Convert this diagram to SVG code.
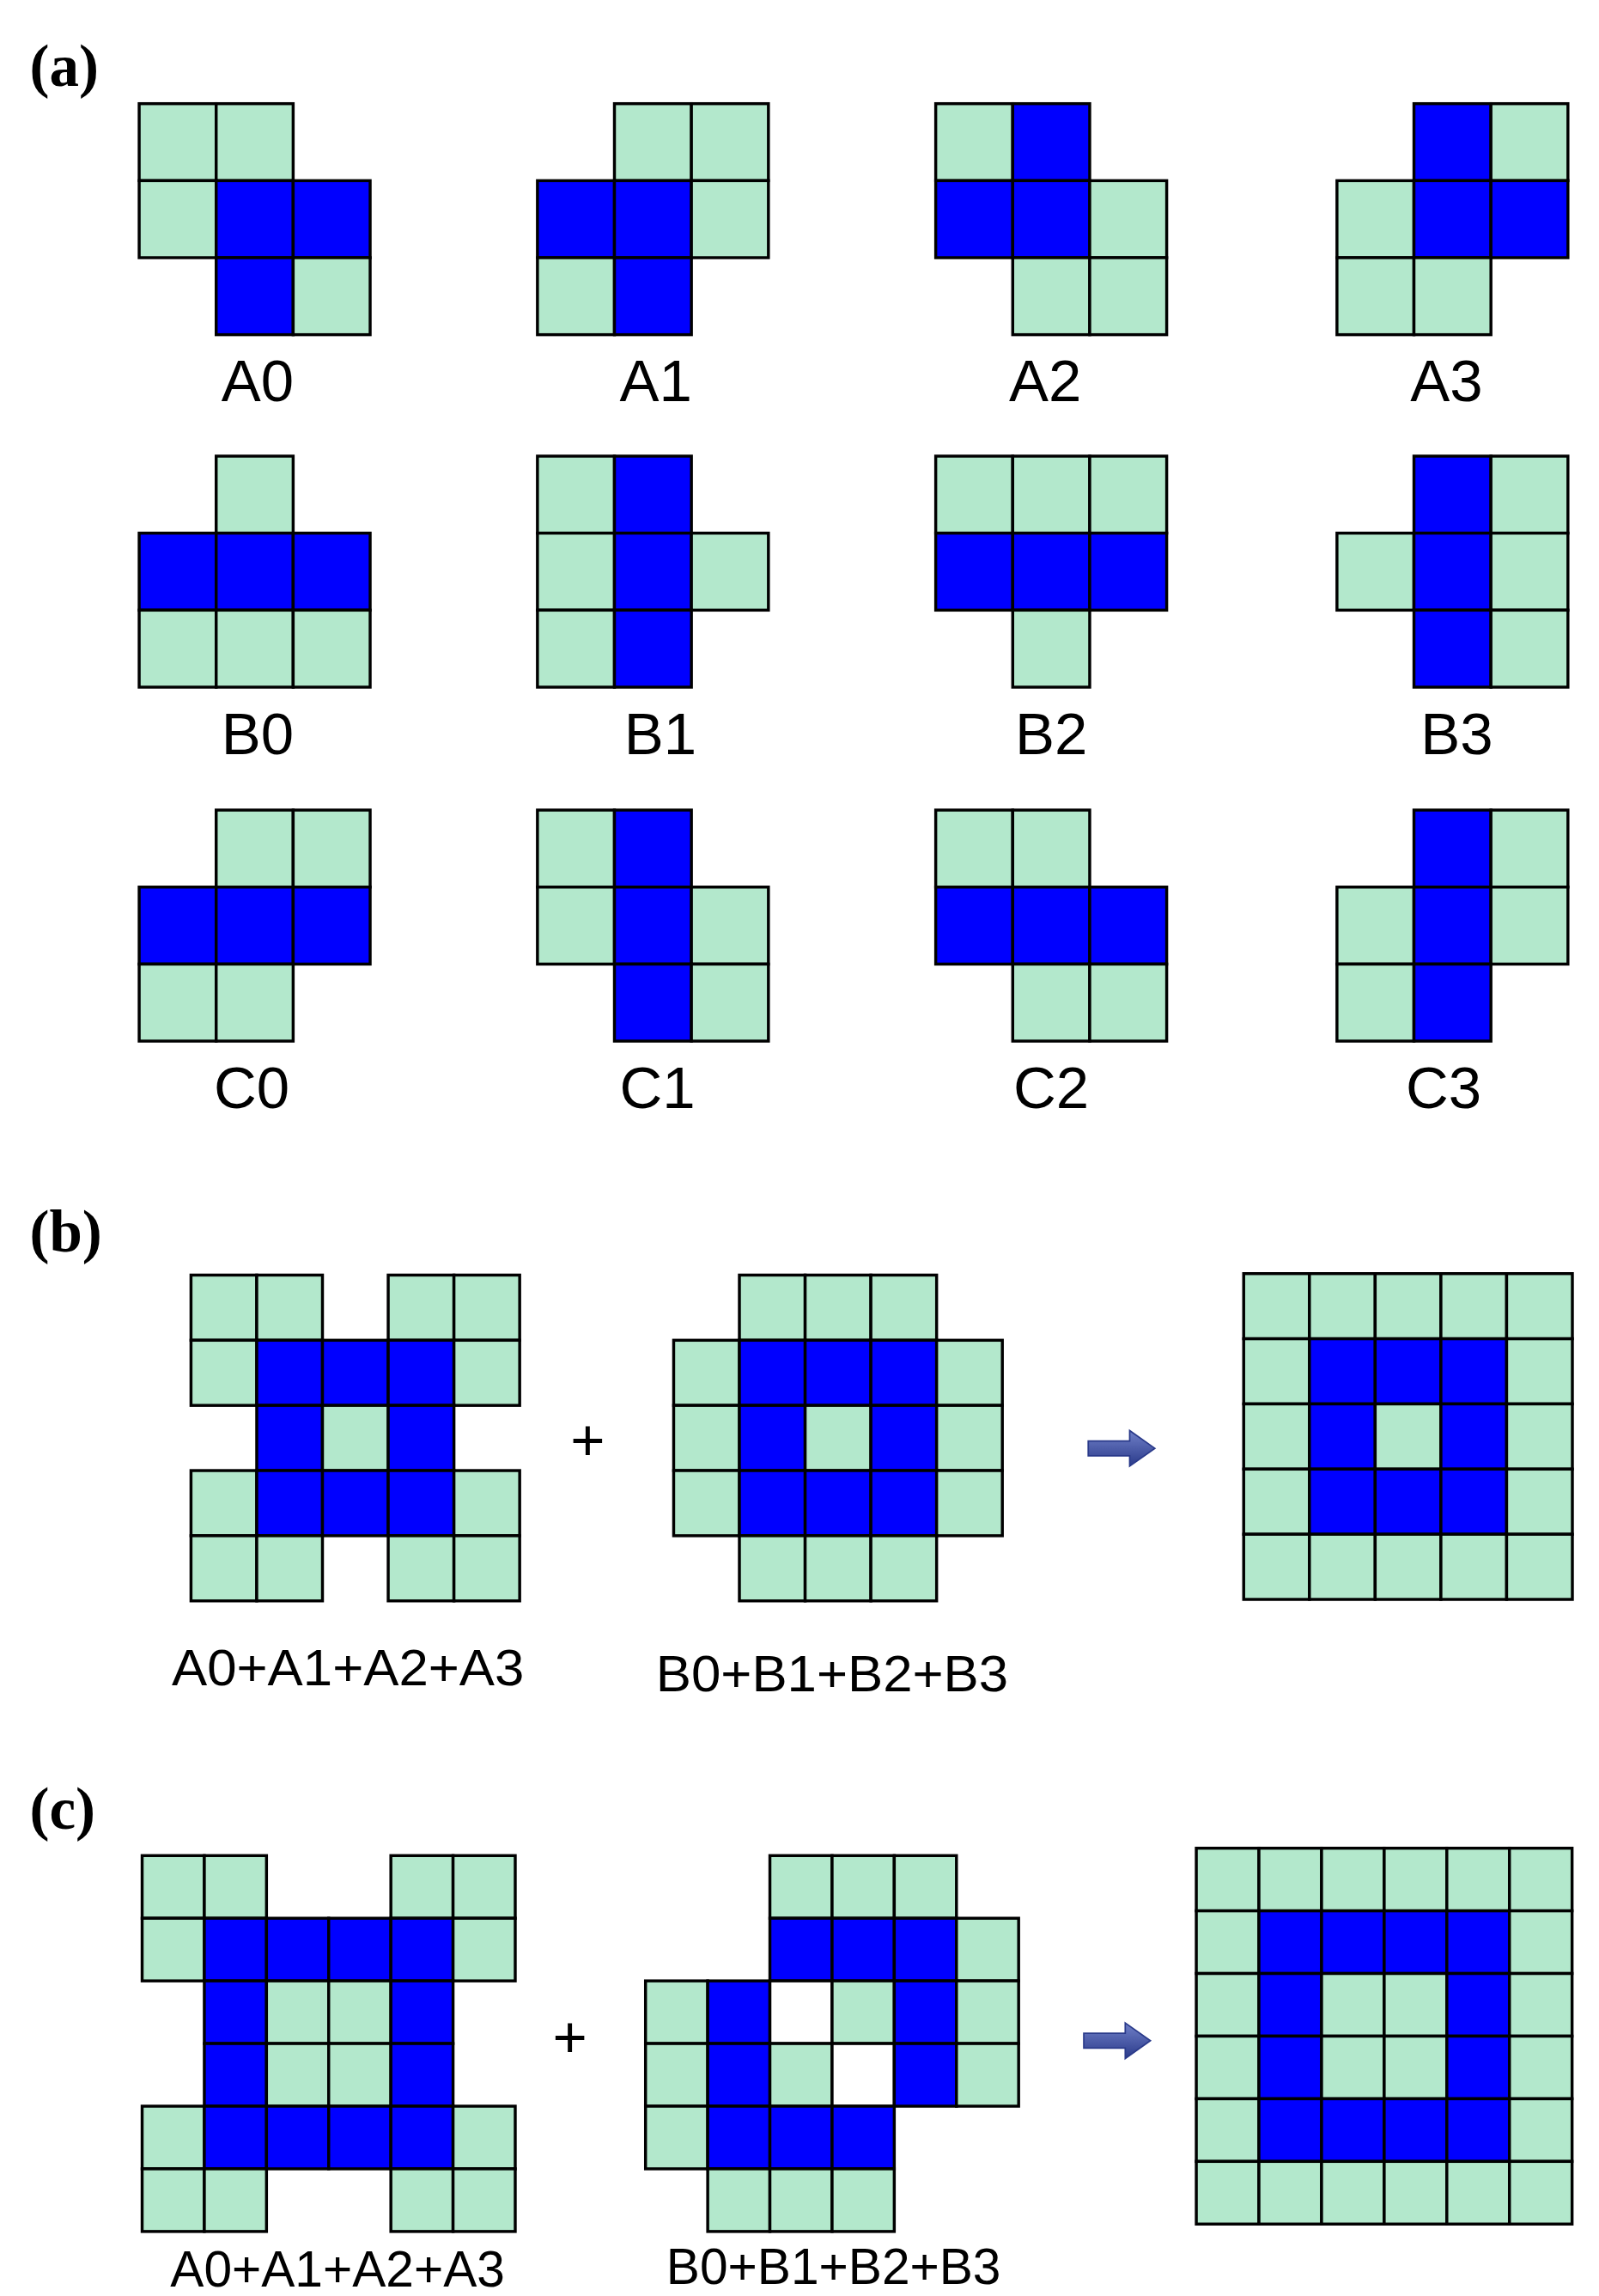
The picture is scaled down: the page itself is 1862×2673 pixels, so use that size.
<svg xmlns="http://www.w3.org/2000/svg" width="1862" height="2673" viewBox="0 0 1862 2673">
<style>
.g{fill:#b3e8cc;stroke:#000;stroke-width:2}
.b{fill:#0000ff;stroke:#000;stroke-width:2}
.w{fill:#fff;stroke:#000;stroke-width:2}
.lab{font-family:"Liberation Sans",Arial,sans-serif;font-size:40px;text-anchor:middle;fill:#000}
.sum{font-family:"Liberation Sans",Arial,sans-serif;font-size:34px;text-anchor:middle;fill:#000}
.pl{font-family:"Liberation Serif","Times New Roman",serif;font-size:40px;font-weight:bold;fill:#000}
.plus{font-family:"Liberation Sans",Arial,sans-serif;font-size:40px;text-anchor:middle;fill:#000}
</style>
<defs>
<linearGradient id="ag" x1="0" y1="0" x2="0" y2="1"><stop offset="0" stop-color="#7080c8"/><stop offset="1" stop-color="#2a3a8a"/></linearGradient>
<path id="arr" d="M0,-5 H28 V-12 L45,0 L28,12 V5 H0 Z" fill="url(#ag)" stroke="#2a3a8a" stroke-width="1"/>
</defs>
<rect width="1862" height="2673" fill="#fff"/>
<g transform="scale(1.7241)">
<text class="pl" x="20" y="58">(a)</text>
<text class="pl" x="20" y="845">(b)</text>
<text class="pl" x="20" y="1235">(c)</text>

<g id="A0" transform="translate(94,70)"><rect class="g" x="0" y="0" width="52" height="52"/><rect class="g" x="52" y="0" width="52" height="52"/><rect class="g" x="0" y="52" width="52" height="52"/><rect class="b" x="52" y="52" width="52" height="52"/><rect class="b" x="104" y="52" width="52" height="52"/><rect class="b" x="52" y="104" width="52" height="52"/><rect class="g" x="104" y="104" width="52" height="52"/><text class="lab" x="80" y="201">A0</text></g>
<g id="A1" transform="translate(363,70)"><rect class="g" x="52" y="0" width="52" height="52"/><rect class="g" x="104" y="0" width="52" height="52"/><rect class="b" x="0" y="52" width="52" height="52"/><rect class="b" x="52" y="52" width="52" height="52"/><rect class="g" x="104" y="52" width="52" height="52"/><rect class="g" x="0" y="104" width="52" height="52"/><rect class="b" x="52" y="104" width="52" height="52"/><text class="lab" x="80" y="201">A1</text></g>
<g id="A2" transform="translate(632,70)"><rect class="g" x="0" y="0" width="52" height="52"/><rect class="b" x="52" y="0" width="52" height="52"/><rect class="b" x="0" y="52" width="52" height="52"/><rect class="b" x="52" y="52" width="52" height="52"/><rect class="g" x="104" y="52" width="52" height="52"/><rect class="g" x="52" y="104" width="52" height="52"/><rect class="g" x="104" y="104" width="52" height="52"/><text class="lab" x="74" y="201">A2</text></g>
<g id="A3" transform="translate(903,70)"><rect class="b" x="52" y="0" width="52" height="52"/><rect class="g" x="104" y="0" width="52" height="52"/><rect class="g" x="0" y="52" width="52" height="52"/><rect class="b" x="52" y="52" width="52" height="52"/><rect class="b" x="104" y="52" width="52" height="52"/><rect class="g" x="0" y="104" width="52" height="52"/><rect class="g" x="52" y="104" width="52" height="52"/><text class="lab" x="74" y="201">A3</text></g>

<g id="B0" transform="translate(94,308)"><rect class="g" x="52" y="0" width="52" height="52"/><rect class="b" x="0" y="52" width="52" height="52"/><rect class="b" x="52" y="52" width="52" height="52"/><rect class="b" x="104" y="52" width="52" height="52"/><rect class="g" x="0" y="104" width="52" height="52"/><rect class="g" x="52" y="104" width="52" height="52"/><rect class="g" x="104" y="104" width="52" height="52"/><text class="lab" x="80" y="201">B0</text></g>
<g id="B1" transform="translate(363,308)"><rect class="g" x="0" y="0" width="52" height="52"/><rect class="b" x="52" y="0" width="52" height="52"/><rect class="g" x="0" y="52" width="52" height="52"/><rect class="b" x="52" y="52" width="52" height="52"/><rect class="g" x="104" y="52" width="52" height="52"/><rect class="g" x="0" y="104" width="52" height="52"/><rect class="b" x="52" y="104" width="52" height="52"/><text class="lab" x="83" y="201">B1</text></g>
<g id="B2" transform="translate(632,308)"><rect class="g" x="0" y="0" width="52" height="52"/><rect class="g" x="52" y="0" width="52" height="52"/><rect class="g" x="104" y="0" width="52" height="52"/><rect class="b" x="0" y="52" width="52" height="52"/><rect class="b" x="52" y="52" width="52" height="52"/><rect class="b" x="104" y="52" width="52" height="52"/><rect class="g" x="52" y="104" width="52" height="52"/><text class="lab" x="78" y="201">B2</text></g>
<g id="B3" transform="translate(903,308)"><rect class="b" x="52" y="0" width="52" height="52"/><rect class="g" x="104" y="0" width="52" height="52"/><rect class="g" x="0" y="52" width="52" height="52"/><rect class="b" x="52" y="52" width="52" height="52"/><rect class="g" x="104" y="52" width="52" height="52"/><rect class="b" x="52" y="104" width="52" height="52"/><rect class="g" x="104" y="104" width="52" height="52"/><text class="lab" x="81" y="201">B3</text></g>

<g id="C0" transform="translate(94,547)"><rect class="g" x="52" y="0" width="52" height="52"/><rect class="g" x="104" y="0" width="52" height="52"/><rect class="b" x="0" y="52" width="52" height="52"/><rect class="b" x="52" y="52" width="52" height="52"/><rect class="b" x="104" y="52" width="52" height="52"/><rect class="g" x="0" y="104" width="52" height="52"/><rect class="g" x="52" y="104" width="52" height="52"/><text class="lab" x="76" y="201">C0</text></g>
<g id="C1" transform="translate(363,547)"><rect class="g" x="0" y="0" width="52" height="52"/><rect class="b" x="52" y="0" width="52" height="52"/><rect class="g" x="0" y="52" width="52" height="52"/><rect class="b" x="52" y="52" width="52" height="52"/><rect class="g" x="104" y="52" width="52" height="52"/><rect class="b" x="52" y="104" width="52" height="52"/><rect class="g" x="104" y="104" width="52" height="52"/><text class="lab" x="81" y="201">C1</text></g>
<g id="C2" transform="translate(632,547)"><rect class="g" x="0" y="0" width="52" height="52"/><rect class="g" x="52" y="0" width="52" height="52"/><rect class="b" x="0" y="52" width="52" height="52"/><rect class="b" x="52" y="52" width="52" height="52"/><rect class="b" x="104" y="52" width="52" height="52"/><rect class="g" x="52" y="104" width="52" height="52"/><rect class="g" x="104" y="104" width="52" height="52"/><text class="lab" x="78" y="201">C2</text></g>
<g id="C3" transform="translate(903,547)"><rect class="b" x="52" y="0" width="52" height="52"/><rect class="g" x="104" y="0" width="52" height="52"/><rect class="g" x="0" y="52" width="52" height="52"/><rect class="b" x="52" y="52" width="52" height="52"/><rect class="g" x="104" y="52" width="52" height="52"/><rect class="g" x="0" y="104" width="52" height="52"/><rect class="b" x="52" y="104" width="52" height="52"/><text class="lab" x="72" y="201">C3</text></g>

<!-- panel b -->
<g id="bA" transform="translate(129,861)">
<rect class="g" x="0" y="0" width="44.4" height="44"/><rect class="g" x="44.4" y="0" width="44.4" height="44"/><rect class="g" x="133.2" y="0" width="44.4" height="44"/><rect class="g" x="177.6" y="0" width="44.4" height="44"/>
<rect class="g" x="0" y="44" width="44.4" height="44"/><rect class="b" x="44.4" y="44" width="44.4" height="44"/><rect class="b" x="88.8" y="44" width="44.4" height="44"/><rect class="b" x="133.2" y="44" width="44.4" height="44"/><rect class="g" x="177.6" y="44" width="44.4" height="44"/>
<rect class="b" x="44.4" y="88" width="44.4" height="44"/><rect class="g" x="88.8" y="88" width="44.4" height="44"/><rect class="b" x="133.2" y="88" width="44.4" height="44"/>
<rect class="g" x="0" y="132" width="44.4" height="44"/><rect class="b" x="44.4" y="132" width="44.4" height="44"/><rect class="b" x="88.8" y="132" width="44.4" height="44"/><rect class="b" x="133.2" y="132" width="44.4" height="44"/><rect class="g" x="177.6" y="132" width="44.4" height="44"/>
<rect class="g" x="0" y="176" width="44.4" height="44"/><rect class="g" x="44.4" y="176" width="44.4" height="44"/><rect class="g" x="133.2" y="176" width="44.4" height="44"/><rect class="g" x="177.6" y="176" width="44.4" height="44"/>
<text class="sum" x="106" y="277" textLength="238" lengthAdjust="spacingAndGlyphs">A0+A1+A2+A3</text>
</g>
<text class="plus" x="397" y="986">+</text>
<g id="bB" transform="translate(455,861)">
<rect class="g" x="44.4" y="0" width="44.4" height="44"/><rect class="g" x="88.8" y="0" width="44.4" height="44"/><rect class="g" x="133.2" y="0" width="44.4" height="44"/>
<rect class="g" x="0" y="44" width="44.4" height="44"/><rect class="b" x="44.4" y="44" width="44.4" height="44"/><rect class="b" x="88.8" y="44" width="44.4" height="44"/><rect class="b" x="133.2" y="44" width="44.4" height="44"/><rect class="g" x="177.6" y="44" width="44.4" height="44"/>
<rect class="g" x="0" y="88" width="44.4" height="44"/><rect class="b" x="44.4" y="88" width="44.4" height="44"/><rect class="g" x="88.8" y="88" width="44.4" height="44"/><rect class="b" x="133.2" y="88" width="44.4" height="44"/><rect class="g" x="177.6" y="88" width="44.4" height="44"/>
<rect class="g" x="0" y="132" width="44.4" height="44"/><rect class="b" x="44.4" y="132" width="44.4" height="44"/><rect class="b" x="88.8" y="132" width="44.4" height="44"/><rect class="b" x="133.2" y="132" width="44.4" height="44"/><rect class="g" x="177.6" y="132" width="44.4" height="44"/>
<rect class="g" x="44.4" y="176" width="44.4" height="44"/><rect class="g" x="88.8" y="176" width="44.4" height="44"/><rect class="g" x="133.2" y="176" width="44.4" height="44"/>
<text class="sum" x="107" y="281" textLength="238" lengthAdjust="spacingAndGlyphs">B0+B1+B2+B3</text>
</g>
<g id="connectors">
<use href="#arr" x="735" y="978"/>
<use href="#arr" x="732" y="1378"/>
</g>
<g id="bR" transform="translate(840,860)">
<rect class="g" x="0" y="0" width="44.4" height="44"/><rect class="g" x="44.4" y="0" width="44.4" height="44"/><rect class="g" x="88.8" y="0" width="44.4" height="44"/><rect class="g" x="133.2" y="0" width="44.4" height="44"/><rect class="g" x="177.6" y="0" width="44.4" height="44"/>
<rect class="g" x="0" y="44" width="44.4" height="44"/><rect class="b" x="44.4" y="44" width="44.4" height="44"/><rect class="b" x="88.8" y="44" width="44.4" height="44"/><rect class="b" x="133.2" y="44" width="44.4" height="44"/><rect class="g" x="177.6" y="44" width="44.4" height="44"/>
<rect class="g" x="0" y="88" width="44.4" height="44"/><rect class="b" x="44.4" y="88" width="44.4" height="44"/><rect class="g" x="88.8" y="88" width="44.4" height="44"/><rect class="b" x="133.2" y="88" width="44.4" height="44"/><rect class="g" x="177.6" y="88" width="44.4" height="44"/>
<rect class="g" x="0" y="132" width="44.4" height="44"/><rect class="b" x="44.4" y="132" width="44.4" height="44"/><rect class="b" x="88.8" y="132" width="44.4" height="44"/><rect class="b" x="133.2" y="132" width="44.4" height="44"/><rect class="g" x="177.6" y="132" width="44.4" height="44"/>
<rect class="g" x="0" y="176" width="44.4" height="44"/><rect class="g" x="44.4" y="176" width="44.4" height="44"/><rect class="g" x="88.8" y="176" width="44.4" height="44"/><rect class="g" x="133.2" y="176" width="44.4" height="44"/><rect class="g" x="177.6" y="176" width="44.4" height="44"/>
</g>

<!-- panel c -->
<g id="cA" transform="translate(96,1253)">
<rect class="g" x="0" y="0" width="42" height="42.3"/><rect class="g" x="42" y="0" width="42" height="42.3"/><rect class="g" x="168" y="0" width="42" height="42.3"/><rect class="g" x="210" y="0" width="42" height="42.3"/>
<rect class="g" x="0" y="42.3" width="42" height="42.3"/><rect class="b" x="42" y="42.3" width="42" height="42.3"/><rect class="b" x="84" y="42.3" width="42" height="42.3"/><rect class="b" x="126" y="42.3" width="42" height="42.3"/><rect class="b" x="168" y="42.3" width="42" height="42.3"/><rect class="g" x="210" y="42.3" width="42" height="42.3"/>
<rect class="b" x="42" y="84.6" width="42" height="42.3"/><rect class="g" x="84" y="84.6" width="42" height="42.3"/><rect class="g" x="126" y="84.6" width="42" height="42.3"/><rect class="b" x="168" y="84.6" width="42" height="42.3"/>
<rect class="b" x="42" y="126.9" width="42" height="42.3"/><rect class="g" x="84" y="126.9" width="42" height="42.3"/><rect class="g" x="126" y="126.9" width="42" height="42.3"/><rect class="b" x="168" y="126.9" width="42" height="42.3"/>
<rect class="g" x="0" y="169.2" width="42" height="42.3"/><rect class="b" x="42" y="169.2" width="42" height="42.3"/><rect class="b" x="84" y="169.2" width="42" height="42.3"/><rect class="b" x="126" y="169.2" width="42" height="42.3"/><rect class="b" x="168" y="169.2" width="42" height="42.3"/><rect class="g" x="210" y="169.2" width="42" height="42.3"/>
<rect class="g" x="0" y="211.5" width="42" height="42.3"/><rect class="g" x="42" y="211.5" width="42" height="42.3"/><rect class="g" x="168" y="211.5" width="42" height="42.3"/><rect class="g" x="210" y="211.5" width="42" height="42.3"/>
<text class="sum" x="132" y="291" textLength="226" lengthAdjust="spacingAndGlyphs">A0+A1+A2+A3</text>
</g>
<text class="plus" x="385" y="1389">+</text>
<g id="cB" transform="translate(436,1253)">
<rect class="g" x="84" y="0" width="42" height="42.3"/><rect class="g" x="126" y="0" width="42" height="42.3"/><rect class="g" x="168" y="0" width="42" height="42.3"/>
<rect class="b" x="84" y="42.3" width="42" height="42.3"/><rect class="b" x="126" y="42.3" width="42" height="42.3"/><rect class="b" x="168" y="42.3" width="42" height="42.3"/><rect class="g" x="210" y="42.3" width="42" height="42.3"/>
<rect class="g" x="0" y="84.6" width="42" height="42.3"/><rect class="b" x="42" y="84.6" width="42" height="42.3"/><rect class="w" x="84" y="84.6" width="42" height="42.3"/><rect class="g" x="126" y="84.6" width="42" height="42.3"/><rect class="b" x="168" y="84.6" width="42" height="42.3"/><rect class="g" x="210" y="84.6" width="42" height="42.3"/>
<rect class="g" x="0" y="126.9" width="42" height="42.3"/><rect class="b" x="42" y="126.9" width="42" height="42.3"/><rect class="g" x="84" y="126.9" width="42" height="42.3"/><rect class="w" x="126" y="126.9" width="42" height="42.3"/><rect class="b" x="168" y="126.9" width="42" height="42.3"/><rect class="g" x="210" y="126.9" width="42" height="42.3"/>
<rect class="g" x="0" y="169.2" width="42" height="42.3"/><rect class="b" x="42" y="169.2" width="42" height="42.3"/><rect class="b" x="84" y="169.2" width="42" height="42.3"/><rect class="b" x="126" y="169.2" width="42" height="42.3"/>
<rect class="g" x="42" y="211.5" width="42" height="42.3"/><rect class="g" x="84" y="211.5" width="42" height="42.3"/><rect class="g" x="126" y="211.5" width="42" height="42.3"/>
<text class="sum" x="127" y="289" textLength="226" lengthAdjust="spacingAndGlyphs">B0+B1+B2+B3</text>
</g>
<g id="cR" transform="translate(808,1248)">
<rect class="g" x="0" y="0" width="42.3" height="42.3"/><rect class="g" x="42.3" y="0" width="42.3" height="42.3"/><rect class="g" x="84.6" y="0" width="42.3" height="42.3"/><rect class="g" x="126.9" y="0" width="42.3" height="42.3"/><rect class="g" x="169.2" y="0" width="42.3" height="42.3"/><rect class="g" x="211.5" y="0" width="42.3" height="42.3"/>
<rect class="g" x="0" y="42.3" width="42.3" height="42.3"/><rect class="b" x="42.3" y="42.3" width="42.3" height="42.3"/><rect class="b" x="84.6" y="42.3" width="42.3" height="42.3"/><rect class="b" x="126.9" y="42.3" width="42.3" height="42.3"/><rect class="b" x="169.2" y="42.3" width="42.3" height="42.3"/><rect class="g" x="211.5" y="42.3" width="42.3" height="42.3"/>
<rect class="g" x="0" y="84.6" width="42.3" height="42.3"/><rect class="b" x="42.3" y="84.6" width="42.3" height="42.3"/><rect class="g" x="84.6" y="84.6" width="42.3" height="42.3"/><rect class="g" x="126.9" y="84.6" width="42.3" height="42.3"/><rect class="b" x="169.2" y="84.6" width="42.3" height="42.3"/><rect class="g" x="211.5" y="84.6" width="42.3" height="42.3"/>
<rect class="g" x="0" y="126.9" width="42.3" height="42.3"/><rect class="b" x="42.3" y="126.9" width="42.3" height="42.3"/><rect class="g" x="84.6" y="126.9" width="42.3" height="42.3"/><rect class="g" x="126.9" y="126.9" width="42.3" height="42.3"/><rect class="b" x="169.2" y="126.9" width="42.3" height="42.3"/><rect class="g" x="211.5" y="126.9" width="42.3" height="42.3"/>
<rect class="g" x="0" y="169.2" width="42.3" height="42.3"/><rect class="b" x="42.3" y="169.2" width="42.3" height="42.3"/><rect class="b" x="84.6" y="169.2" width="42.3" height="42.3"/><rect class="b" x="126.9" y="169.2" width="42.3" height="42.3"/><rect class="b" x="169.2" y="169.2" width="42.3" height="42.3"/><rect class="g" x="211.5" y="169.2" width="42.3" height="42.3"/>
<rect class="g" x="0" y="211.5" width="42.3" height="42.3"/><rect class="g" x="42.3" y="211.5" width="42.3" height="42.3"/><rect class="g" x="84.6" y="211.5" width="42.3" height="42.3"/><rect class="g" x="126.9" y="211.5" width="42.3" height="42.3"/><rect class="g" x="169.2" y="211.5" width="42.3" height="42.3"/><rect class="g" x="211.5" y="211.5" width="42.3" height="42.3"/>
</g>
</g>
</svg>
